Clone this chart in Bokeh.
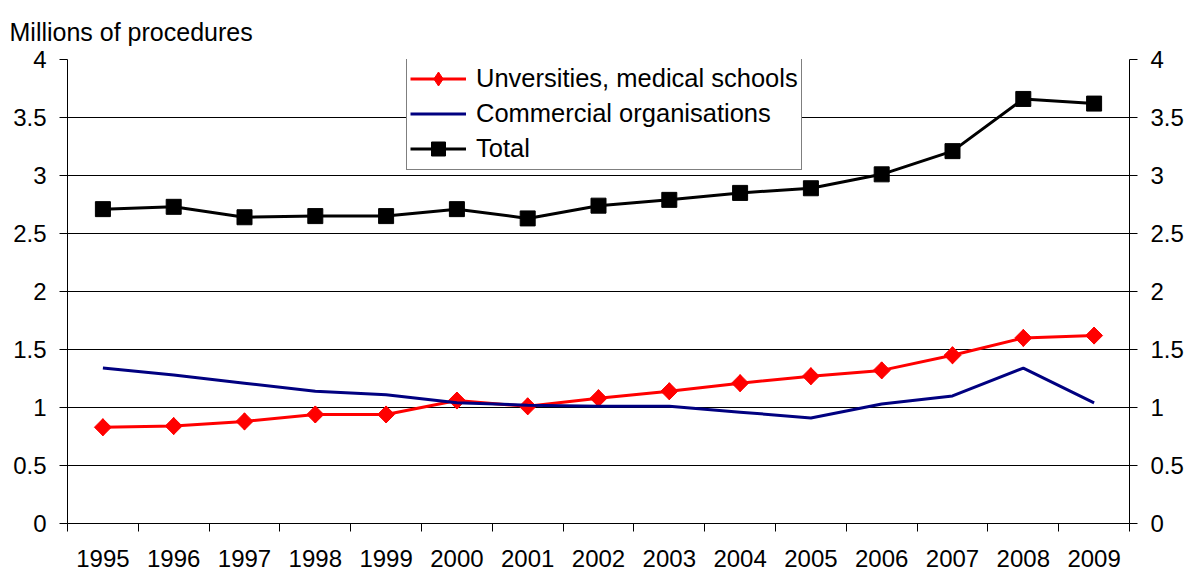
from bokeh.plotting import figure
from bokeh.models import (FixedTicker, LinearAxis, CustomJSTickFormatter, Range1d, Legend)
from bokeh.embed import file_html
from bokeh.resources import INLINE
import numpy as np

years = ["1995", "1996", "1997", "1998", "1999", "2000", "2001", "2002",
         "2003", "2004", "2005", "2006", "2007", "2008", "2009"]
universities = [0.83, 0.84, 0.88, 0.94, 0.94, 1.06, 1.01, 1.08, 1.14, 1.21,
                1.27, 1.32, 1.45, 1.60, 1.62]
commercial = [1.34, 1.28, 1.21, 1.14, 1.11, 1.04, 1.02, 1.01, 1.01, 0.96,
              0.91, 1.03, 1.10, 1.34, 1.04]
total = [2.71, 2.73, 2.64, 2.65, 2.65, 2.71, 2.63, 2.74, 2.79, 2.85,
         2.89, 3.01, 3.21, 3.66, 3.62]
y_ticks = [0, 0.5, 1, 1.5, 2, 2.5, 3, 3.5, 4]

FONT = "Liberation Sans"
x = [i + 0.5 for i in range(len(years))]

p = figure(width=1189, height=570, output_backend="svg", toolbar_location=None,
           x_range=Range1d(0, len(years)), y_range=Range1d(0, 4),
           min_border_left=67, min_border_right=60, min_border_top=59,
           min_border_bottom=47)
p.outline_line_color = None
p.background_fill_color = "white"
p.border_fill_color = "white"

p.title.text = "Millions of procedures"
p.title.text_font = FONT
p.title.text_font_size = "25px"
p.title.text_font_style = "normal"
p.title.text_color = "black"
p.title.align = "left"
p.title.offset = -58
p.title.standoff = 28

# x axis
p.xaxis.ticker = FixedTicker(ticks=x, minor_ticks=list(range(len(years) + 1)))
p.xaxis.formatter = CustomJSTickFormatter(args=dict(years=years),
                                          code="return years[Math.floor(tick)];")
p.xaxis.major_tick_out = 0
p.xaxis.major_tick_in = 0
p.xaxis.minor_tick_out = 8
p.xaxis.minor_tick_in = 0
p.xaxis.minor_tick_line_color = "black"
p.xaxis.axis_line_color = "black"
p.xaxis.major_label_text_font = FONT
p.xaxis.major_label_text_font_size = "24px"
p.xaxis.major_label_text_color = "black"
p.xaxis.major_label_text_line_height = 0.9
p.xaxis.major_label_standoff = 18

yfmt = CustomJSTickFormatter(code="return tick.toString();")
p.yaxis.ticker = FixedTicker(ticks=y_ticks)
p.yaxis.formatter = yfmt
right = LinearAxis(ticker=FixedTicker(ticks=y_ticks), formatter=yfmt)
p.add_layout(right, "right")
for ax in p.yaxis:
    ax.major_tick_out = 8
    ax.major_tick_in = 0
    ax.minor_tick_line_color = None
    ax.axis_line_color = "black"
    ax.major_tick_line_color = "black"
    ax.major_label_text_font = FONT
    ax.major_label_text_font_size = "24px"
    ax.major_label_text_color = "black"
    ax.major_label_standoff = 13

p.xgrid.grid_line_color = None
p.ygrid.ticker = FixedTicker(ticks=y_ticks)
p.ygrid.grid_line_color = "black"
p.ygrid.grid_line_width = 1

lab_u = "Unversities, medical schools"
lab_c = "Commercial organisations"
lab_t = "Total"

r1 = p.line(x, universities, line_color="#FF0000", line_width=3)
# plain diamond (used as legend swatch; hidden under the rotated squares)
r2_leg = p.scatter(x, universities, marker="diamond", size=17,
                   fill_color="#FF0000", line_color="#FF0000")
r2 = p.scatter(x, universities, marker="square", angle=np.pi / 4, size=12,
               fill_color="#FF0000", line_color="#FF0000")
r3 = p.line(x, commercial, line_color="#000080", line_width=3)
r4 = p.line(x, total, line_color="black", line_width=3)
r5 = p.scatter(x, total, marker="square", size=15, fill_color="black",
               line_color="black")

legend = Legend(items=[(lab_u, [r1, r2_leg]), (lab_c, [r3]), (lab_t, [r4, r5])],
                location=(339, 353))
legend.label_text_font = FONT
legend.label_text_font_size = "25.5px"
legend.label_text_color = "black"
legend.glyph_width = 56
legend.glyph_height = 35
legend.label_height = 35
legend.spacing = -2
legend.padding = 3
legend.margin = 0
legend.label_standoff = 10
legend.border_line_color = "black"
legend.border_line_width = 1
legend.background_fill_alpha = 1
p.add_layout(legend, "center")

open("out.html", "w").write(file_html(p, INLINE))
